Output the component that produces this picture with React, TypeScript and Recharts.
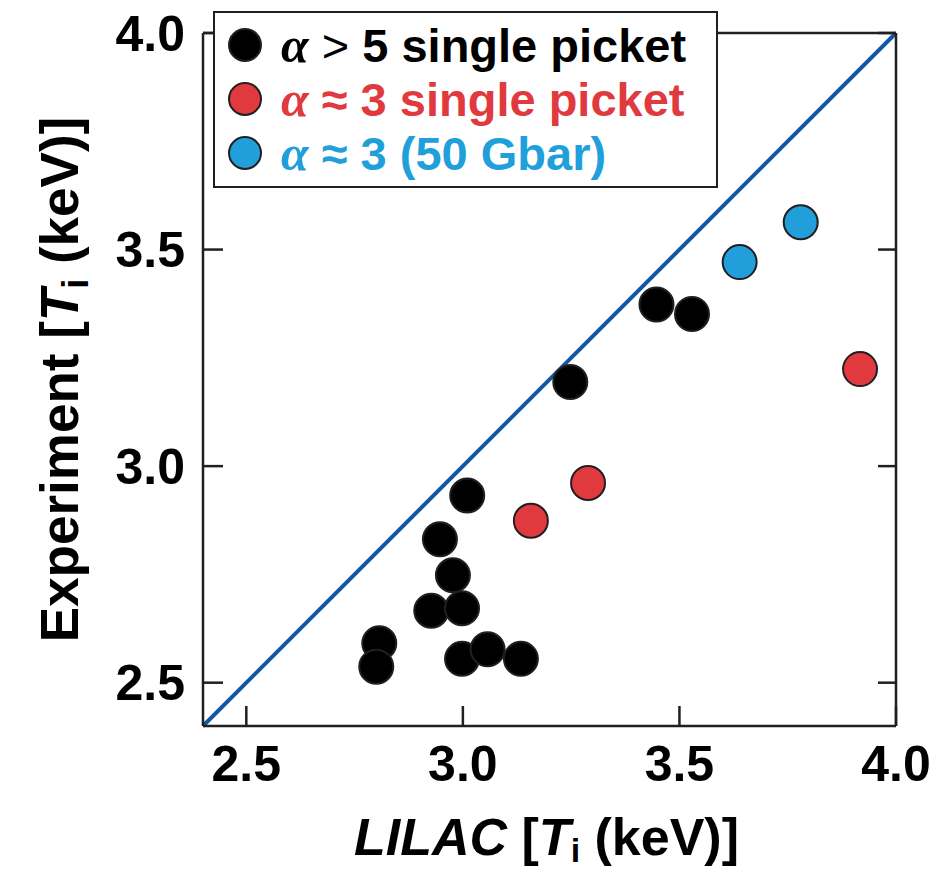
import { ReferenceLine, Scatter, ScatterChart, XAxis, YAxis } from 'recharts'

// LILAC-predicted vs measured ion temperature (keV)
const axisTicks = [2.5, 3.0, 3.5, 4.0]

const highAlphaLilac = [3.01, 2.947, 2.977, 2.927, 2.998, 2.807, 2.8, 2.998, 3.057, 3.134, 3.248, 3.447, 3.529]
const highAlphaExp = [2.932, 2.831, 2.748, 2.666, 2.672, 2.591, 2.537, 2.555, 2.577, 2.555, 3.194, 3.373, 3.351]

const lowAlphaLilac = [3.157, 3.289, 3.917]
const lowAlphaExp = [2.874, 2.961, 3.224]

const gbarLilac = [3.639, 3.78]
const gbarExp = [3.471, 3.563]

const seriesNames = ['> 5 single picket', '\u2248 3 single picket', '\u2248 3 (50 Gbar)']
const seriesColors = ['#000000', '#e03a3f', '#209fdb']

const font = '"Liberation Sans", Arial, Helvetica, sans-serif'
const ink = '#231f20'

const toPoints = (xs: number[], ys: number[]) => xs.map((x, i) => ({ x, y: ys[i] }))

const groups = [
  toPoints(highAlphaLilac, highAlphaExp),
  toPoints(lowAlphaLilac, lowAlphaExp),
  toPoints(gbarLilac, gbarExp),
]

const fmt = (v: number) => v.toFixed(1)

function Dot(props: any) {
  const { cx, cy, fill } = props
  if (cx == null || cy == null) return null
  return <circle cx={cx} cy={cy} r={17} fill={fill} stroke={ink} strokeWidth={2} />
}

function XTitle(props: any) {
  const vb = props.viewBox || { x: 203, y: 726, width: 693, height: 147 }
  return (
    <text
      x={vb.x + vb.width / 2 - 3}
      y={vb.y + 129}
      textAnchor="middle"
      fontFamily={font}
      fontWeight={700}
      fontSize={52}
      fill="#000"
    >
      <tspan fontStyle="italic">LILAC</tspan>
      <tspan> [</tspan>
      <tspan fontStyle="italic">T</tspan>
      <tspan fontSize={34} dy={7}>i</tspan>
      <tspan dy={-7}> (keV)]</tspan>
    </text>
  )
}

function YTitle(props: any) {
  const vb = props.viewBox || { x: 0, y: 33, width: 203, height: 693 }
  const cy = vb.y + vb.height / 2
  return (
    <text
      transform={`translate(78, ${cy}) rotate(-90)`}
      textAnchor="middle"
      fontFamily={font}
      fontWeight={700}
      fontSize={53}
      fill="#000"
    >
      <tspan>Experiment [</tspan>
      <tspan fontStyle="italic">T</tspan>
      <tspan fontSize={36} dy={10}>i</tspan>
      <tspan dy={-10}> (keV)]</tspan>
    </text>
  )
}

function LegendBox() {
  return (
    <div
      style={{
        position: 'absolute',
        left: 213,
        top: 11,
        width: 505,
        height: 177,
        boxSizing: 'border-box',
        border: `2.5px solid ${ink}`,
        background: '#fff',
        fontFamily: font,
        fontWeight: 700,
        fontSize: 47,
      }}
    >
      {seriesNames.map((name, i) => (
        <div
          key={name}
          style={{
            position: 'absolute',
            left: 0,
            top: 34 + i * 54 - 27 - 2,
            height: 54,
            display: 'flex',
            alignItems: 'center',
            whiteSpace: 'nowrap',
            color: seriesColors[i],
          }}
        >
          <span
            style={{
              display: 'inline-block',
              marginLeft: 13,
              width: 34,
              height: 34,
              boxSizing: 'border-box',
              borderRadius: '50%',
              border: `2px solid ${ink}`,
              background: seriesColors[i],
            }}
          />
          <span style={{ marginLeft: 19, lineHeight: '54px' }}>
            <span style={{ fontFamily: '"Liberation Serif", "DejaVu Serif", serif', fontStyle: 'italic', fontSize: 50 }}>
              {'\u03b1'}
            </span>{' '}
            <span style={{ fontWeight: i === 0 ? 400 : 700 }}>{name.slice(0, 1)}</span>
            {name.slice(1)}
          </span>
        </div>
      ))}
    </div>
  )
}

export default function App() {
  const tickStyle = { fontSize: 50, fontWeight: 700, fill: '#000', fontFamily: font }
  const lineStyle = { stroke: ink, strokeWidth: 2.5 }
  const blank = () => ''
  return (
    <div style={{ position: 'absolute', left: 0, top: 0, width: 938, height: 873, background: '#fff' }}>
      <ScatterChart width={938} height={873} margin={{ top: 0, right: 0, bottom: 0, left: 0 }}>
        <XAxis
          xAxisId={0}
          type="number"
          dataKey="x"
          orientation="bottom"
          domain={[2.4, 4]}
          allowDataOverflow
          ticks={axisTicks}
          interval={0}
          tickFormatter={fmt}
          height={147}
          tickSize={-20}
          tickMargin={39}
          tick={tickStyle}
          axisLine={lineStyle}
          tickLine={lineStyle}
          label={<XTitle />}
        />
        <XAxis
          xAxisId="top"
          type="number"
          orientation="top"
          domain={[2.4, 4]}
          allowDataOverflow
          ticks={axisTicks}
          interval={0}
          height={33}
          tickSize={-20}
          tickFormatter={blank}
          axisLine={lineStyle}
          tickLine={lineStyle}
        />
        <YAxis
          yAxisId={0}
          type="number"
          dataKey="y"
          orientation="left"
          domain={[2.4, 4]}
          allowDataOverflow
          ticks={axisTicks}
          interval={0}
          tickFormatter={fmt}
          width={203}
          tickSize={-20}
          tickMargin={38}
          tick={tickStyle}
          axisLine={lineStyle}
          tickLine={lineStyle}
          label={<YTitle />}
        />
        <YAxis
          yAxisId="right"
          type="number"
          orientation="right"
          domain={[2.4, 4]}
          allowDataOverflow
          ticks={axisTicks}
          interval={0}
          width={42}
          tickSize={-18}
          tickFormatter={blank}
          axisLine={lineStyle}
          tickLine={lineStyle}
        />
        <ReferenceLine
          segment={[
            { x: 2.4, y: 2.4 },
            { x: 4, y: 4 },
          ]}
          stroke="#1257a3"
          strokeWidth={4}
          ifOverflow="visible"
        />
        {groups.map((pts, i) => (
          <Scatter
            key={seriesNames[i]}
            name={seriesNames[i]}
            data={pts}
            fill={seriesColors[i]}
            shape={<Dot />}
            isAnimationActive={false}
          />
        ))}
      </ScatterChart>
      <LegendBox />
    </div>
  )
}
